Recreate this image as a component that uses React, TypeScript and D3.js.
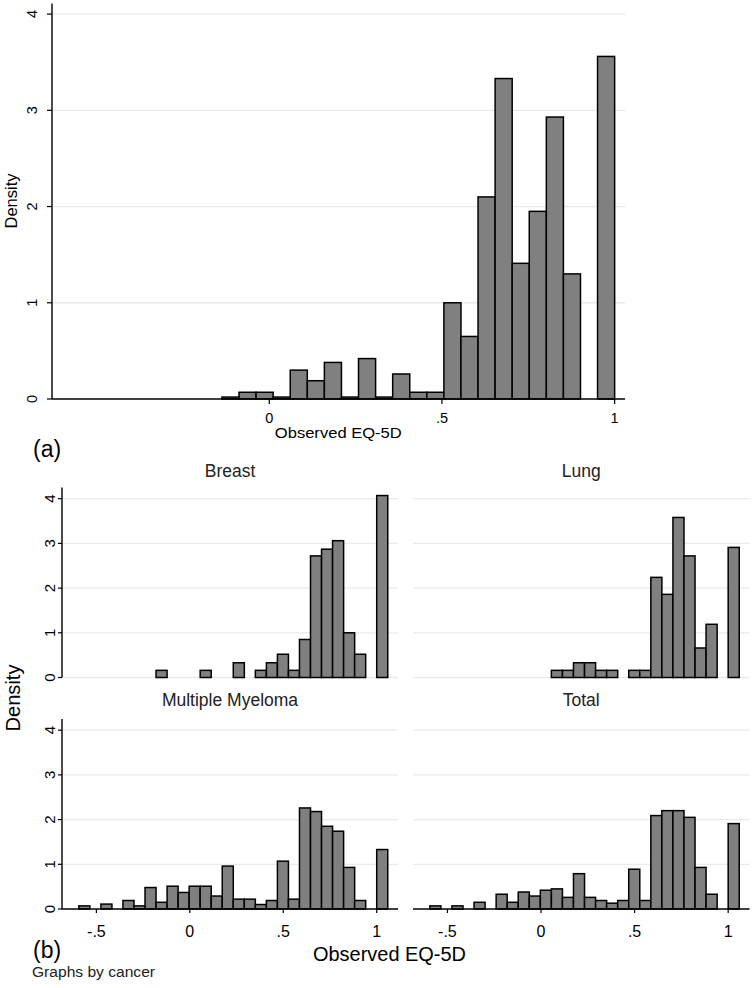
import React from 'react';
import * as d3 from 'd3';

// ---------- DATA ----------
// Panel (a): overall histogram, 23 bins from -0.137 to 1.0
const topBinStart = -0.137;
const topBinEnd = 1.0;
const topDensity = [0.02, 0.07, 0.07, 0.02, 0.3, 0.19, 0.38, 0.02, 0.42, 0.02, 0.26, 0.07, 0.07, 1.0, 0.65, 2.1, 3.33, 1.41, 1.95, 2.93, 1.3, 0, 3.56];

// Panel (b): by cancer, 28 bins starting at -0.594, width 0.05904
const panelBinStart = -0.594;
const panelBinWidth = 0.05904;
const panelNames = ['Breast', 'Lung', 'Multiple Myeloma', 'Total'];
const breastDensity = [0, 0, 0, 0, 0, 0, 0, 0.16, 0, 0, 0, 0.16, 0, 0, 0.33, 0, 0.16, 0.33, 0.52, 0.16, 0.85, 2.72, 2.87, 3.06, 1.0, 0.52, 0, 4.07];
const lungDensity = [0, 0, 0, 0, 0, 0, 0, 0, 0, 0, 0, 0.16, 0.16, 0.33, 0.33, 0.16, 0.16, 0, 0.16, 0.16, 2.24, 1.86, 3.58, 2.72, 0.66, 1.19, 0, 2.91];
const myelomaDensity = [0.07, 0, 0.11, 0, 0.19, 0.07, 0.48, 0.15, 0.51, 0.37, 0.51, 0.51, 0.29, 0.96, 0.22, 0.22, 0.1, 0.19, 1.07, 0.22, 2.26, 2.18, 1.85, 1.74, 0.93, 0.19, 0, 1.33];
const totalDensity = [0.07, 0, 0.07, 0, 0.15, 0, 0.33, 0.15, 0.38, 0.29, 0.42, 0.45, 0.26, 0.79, 0.26, 0.19, 0.13, 0.19, 0.89, 0.19, 2.09, 2.2, 2.2, 2.05, 0.93, 0.33, 0, 1.91];

const yTicks = [0, 1, 2, 3, 4];
const topXTicks = [0, 0.5, 1];
const panelXTicks = [-0.5, 0, 0.5, 1];

const xTitle = 'Observed EQ-5D';
const yTitle = 'Density';
const noteText = 'Graphs by cancer';

// ---------- STYLE ----------
const FONT = '"Liberation Sans", Arial, Helvetica, sans-serif';
const BAR_FILL = '#808080';
const GRID = '#eaeaea';

const fmt = (v: number) => String(v).replace(/^(-?)0\./, '$1.');

function Bars({ data, start, width, x, y }: any) {
  return (
    <g>
      {data.map((v: number, k: number) => {
        if (v <= 0) return null;
        const x0 = x(start + k * width);
        const x1 = x(start + (k + 1) * width);
        return (
          <rect key={k} x={x0} y={y(v)} width={x1 - x0} height={y(0) - y(v)}
            fill={BAR_FILL} stroke="#000" strokeWidth={1.5} />
        );
      })}
    </g>
  );
}

export default function App() {
  // ----- top panel scales -----
  const xTop = d3.scaleLinear().domain([-0.629, 1.03]).range([52, 625]);
  const yTop = d3.scaleLinear().domain([0, 4.11]).range([399, 3.5]);
  const topWidth = (topBinEnd - topBinStart) / topDensity.length;

  // ----- facet scales -----
  const xDom = [-0.684, 1.114];
  const colRanges = [[62, 398], [413, 749.5]];
  const rowRanges = [[677.5, 487.5], [909, 719]];
  const yDom = [0, 4.25];
  const panelData = [breastDensity, lungDensity, myelomaDensity, totalDensity];

  const panels = panelData.map((data, i) => {
    const col = i % 2;
    const row = Math.floor(i / 2);
    const x = d3.scaleLinear().domain(xDom).range(colRanges[col]);
    const y = d3.scaleLinear().domain(yDom).range(rowRanges[row]);
    return { data, col, row, x, y, name: panelNames[i] };
  });

  return (
    <svg width={752} height={988} style={{ position: 'absolute', left: 0, top: 0, background: '#fff' }}
      fontFamily={FONT}>
      <rect x={0} y={0} width={752} height={988} fill="#fff" />

      {/* ===== Panel (a) ===== */}
      <g>
        {yTicks.filter(t => t > 0).map(t => (
          <line key={t} x1={xTop.range()[0]} x2={xTop.range()[1]} y1={yTop(t)} y2={yTop(t)} stroke={GRID} strokeWidth={1.3} />
        ))}
        <Bars data={topDensity} start={topBinStart} width={topWidth} x={xTop} y={yTop} />
        {/* axes */}
        <line x1={52} x2={52} y1={yTop.range()[1]} y2={yTop(0)} stroke="#000" strokeWidth={1.4} />
        <line x1={52} x2={625} y1={yTop(0)} y2={yTop(0)} stroke="#000" strokeWidth={1.4} />
        {yTicks.map(t => (
          <g key={t}>
            <line x1={47} x2={52} y1={yTop(t)} y2={yTop(t)} stroke="#000" strokeWidth={1.2} />
            <text transform={`translate(37,${yTop(t)}) rotate(-90)`} textAnchor="middle" fontSize={14.5} fill="#000">{fmt(t)}</text>
          </g>
        ))}
        {topXTicks.map(t => (
          <g key={t}>
            <line x1={xTop(t)} x2={xTop(t)} y1={yTop(0)} y2={yTop(0) + 5} stroke="#000" strokeWidth={1.2} />
            <text x={xTop(t)} y={423} textAnchor="middle" fontSize={14.5} fill="#000">{fmt(t)}</text>
          </g>
        ))}
        <text transform="translate(17,201) rotate(-90)" textAnchor="middle" fontSize={16} textLength={55} lengthAdjust="spacingAndGlyphs" fill="#000">{yTitle}</text>
        <text x={338.3} y={438.3} textAnchor="middle" fontSize={15} textLength={127} lengthAdjust="spacingAndGlyphs" fill="#000">{xTitle}</text>
        <text x={33} y={457} fontSize={23} fill="#000">(a)</text>
      </g>

      {/* ===== Panel (b) ===== */}
      {panels.map((p, i) => {
        const [xl, xr] = p.x.range();
        const y0 = p.y(0);
        const yTopPx = p.y.range()[1];
        const cx = (xl + xr) / 2;
        return (
          <g key={i}>
            {yTicks.filter(t => p.row === 0 || t > 0).map(t => (
              <line key={t} x1={xl} x2={xr} y1={p.y(t)} y2={p.y(t)} stroke={GRID} strokeWidth={1.3} />
            ))}
            <text x={cx} y={p.row === 0 ? 476.5 : 705.5} textAnchor="middle" fontSize={17.5} fill="#222">{p.name}</text>
            <Bars data={p.data} start={panelBinStart} width={panelBinWidth} x={p.x} y={p.y} />
            {p.col === 0 && (
              <g>
                <line x1={xl} x2={xl} y1={yTopPx} y2={y0} stroke="#000" strokeWidth={1.4} />
                {yTicks.map(t => (
                  <g key={t}>
                    <line x1={xl - 4} x2={xl} y1={p.y(t)} y2={p.y(t)} stroke="#000" strokeWidth={1.2} />
                    <text transform={`translate(55,${p.y(t)}) rotate(-90)`} textAnchor="middle" fontSize={15} fill="#000">{fmt(t)}</text>
                  </g>
                ))}
              </g>
            )}
            {p.row === 1 && (
              <g>
                <line x1={xl} x2={xr} y1={y0} y2={y0} stroke="#000" strokeWidth={1.4} />
                {panelXTicks.map(t => (
                  <g key={t}>
                    <line x1={p.x(t)} x2={p.x(t)} y1={y0} y2={y0 + 4} stroke="#000" strokeWidth={1.2} />
                    <text x={p.x(t)} y={937} textAnchor="middle" fontSize={16} fill="#000">{fmt(t)}</text>
                  </g>
                ))}
              </g>
            )}
          </g>
        );
      })}
      <text transform="translate(20,698) rotate(-90)" textAnchor="middle" fontSize={20} textLength={67} lengthAdjust="spacingAndGlyphs" fill="#000">{yTitle}</text>
      <text x={389.5} y={961} textAnchor="middle" fontSize={20} textLength={153} lengthAdjust="spacingAndGlyphs" fill="#000">{xTitle}</text>
      <text x={33} y={958} fontSize={23} fill="#000">(b)</text>
      <text x={32} y={977} fontSize={14} textLength={123} lengthAdjust="spacingAndGlyphs" fill="#222">{noteText}</text>
    </svg>
  );
}
